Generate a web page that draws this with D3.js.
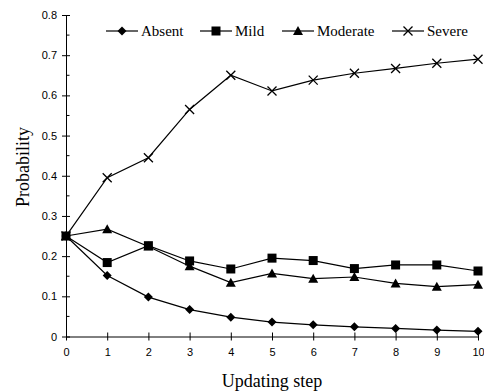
<!DOCTYPE html>
<html>
<head>
<meta charset="utf-8">
<script src="https://cdn.jsdelivr.net/npm/d3@7"></script>
<style>
  body { margin: 0; background: #fff; }
  .tick text { font-family: "Liberation Sans", Arial, sans-serif; font-size: 11px; fill: #000; }
  .title { font-family: "Liberation Serif", "Times New Roman", serif; font-size: 18px; }
  .legend text { font-family: "Liberation Serif", "Times New Roman", serif; font-size: 15px; }
</style>
</head>
<body>
<svg id="chart" width="484" height="392"></svg>
<script>
const steps = [0, 1, 2, 3, 4, 5, 6, 7, 8, 9, 10];
const absent   = [0.25, 0.152, 0.098, 0.067, 0.048, 0.036, 0.029, 0.024, 0.020, 0.016, 0.013];
const mild     = [0.25, 0.184, 0.226, 0.188, 0.168, 0.195, 0.189, 0.169, 0.178, 0.178, 0.163];
const moderate = [0.25, 0.267, 0.224, 0.175, 0.134, 0.157, 0.144, 0.148, 0.132, 0.124, 0.129];
const severe   = [0.25, 0.395, 0.445, 0.565, 0.650, 0.611, 0.638, 0.655, 0.667, 0.680, 0.690];
const yTicks = [0, 0.1, 0.2, 0.3, 0.4, 0.5, 0.6, 0.7, 0.8];
const yMinor = [0.05, 0.15, 0.25, 0.35, 0.45, 0.55, 0.65, 0.75];

const series = [
  { name: 'Absent', values: absent, marker: 'diamond' },
  { name: 'Mild', values: mild, marker: 'square' },
  { name: 'Moderate', values: moderate, marker: 'triangle' },
  { name: 'Severe', values: severe, marker: 'cross' }
];

const svg = d3.select('#chart');
const x = d3.scaleLinear().domain([0, 10]).range([66, 478]);
const y = d3.scaleLinear().domain([0, 0.8]).range([336.5, 15]);

// minor ticks on y
svg.append('g')
  .selectAll('line')
  .data(yMinor)
  .enter()
  .append('line')
  .attr('x1', x(0)).attr('x2', x(0) + 3.5)
  .attr('y1', d => y(d)).attr('y2', d => y(d))
  .attr('stroke', '#000');

const yAxis = svg.append('g')
  .attr('transform', `translate(${x(0)},0)`)
  .call(d3.axisLeft(y).tickValues(yTicks).tickFormat(d => d === 0 ? '0' : d3.format('.1f')(d)).tickSizeInner(4).tickSizeOuter(0).tickPadding(5));
yAxis.selectAll('.tick line').attr('x2', 4).attr('x1', -4);
yAxis.select('.domain').attr('stroke', '#000');

const xAxis = svg.append('g')
  .attr('transform', `translate(0,${y(0)})`)
  .call(d3.axisBottom(x).tickValues(steps).tickFormat(d3.format('d')).tickSizeInner(4).tickSizeOuter(0).tickPadding(8));
xAxis.selectAll('.tick line').attr('y1', -4).attr('y2', 4);
xAxis.select('.domain').attr('stroke', '#000');

const line = d3.line()
  .x((d, i) => x(steps[i]))
  .y(d => y(d));

function drawMarker(g, type, cx, cy) {
  if (type === 'diamond') {
    g.append('path').attr('d', `M${cx},${cy - 4.5}L${cx + 4.5},${cy}L${cx},${cy + 4.5}L${cx - 4.5},${cy}Z`).attr('fill', '#000');
  } else if (type === 'square') {
    g.append('rect').attr('x', cx - 4.5).attr('y', cy - 4.5).attr('width', 9).attr('height', 9).attr('fill', '#000');
  } else if (type === 'triangle') {
    g.append('path').attr('d', `M${cx},${cy - 5}L${cx + 5},${cy + 4}L${cx - 5},${cy + 4}Z`).attr('fill', '#000');
  } else {
    g.append('path').attr('d', `M${cx - 4.5},${cy - 4.5}L${cx + 4.5},${cy + 4.5}M${cx - 4.5},${cy + 4.5}L${cx + 4.5},${cy - 4.5}`)
      .attr('stroke', '#000').attr('stroke-width', 1.3).attr('fill', 'none');
  }
}

series.forEach(s => {
  svg.append('path')
    .datum(s.values)
    .attr('d', line)
    .attr('fill', 'none')
    .attr('stroke', '#000')
    .attr('stroke-width', 1.2);
  const g = svg.append('g');
  s.values.forEach((v, i) => drawMarker(g, s.marker, x(steps[i]), y(v)));
});

// legend
const legendX = [106, 200, 282, 392];
const legend = svg.append('g').classed('legend', true);
series.forEach((s, i) => {
  const lx = legendX[i];
  legend.append('line')
    .attr('x1', lx).attr('x2', lx + 32)
    .attr('y1', 31).attr('y2', 31)
    .attr('stroke', '#000').attr('stroke-width', 1.2);
  drawMarker(legend, s.marker, lx + 16, 31);
  legend.append('text')
    .attr('x', lx + 35).attr('y', 36)
    .text(s.name);
});

svg.append('text')
  .classed('title', true)
  .attr('text-anchor', 'middle')
  .attr('transform', 'translate(29,167) rotate(-90)')
  .text('Probability');

svg.append('text')
  .classed('title', true)
  .attr('text-anchor', 'middle')
  .attr('x', 272).attr('y', 387)
  .text('Updating step');
</script>
</body>
</html>
